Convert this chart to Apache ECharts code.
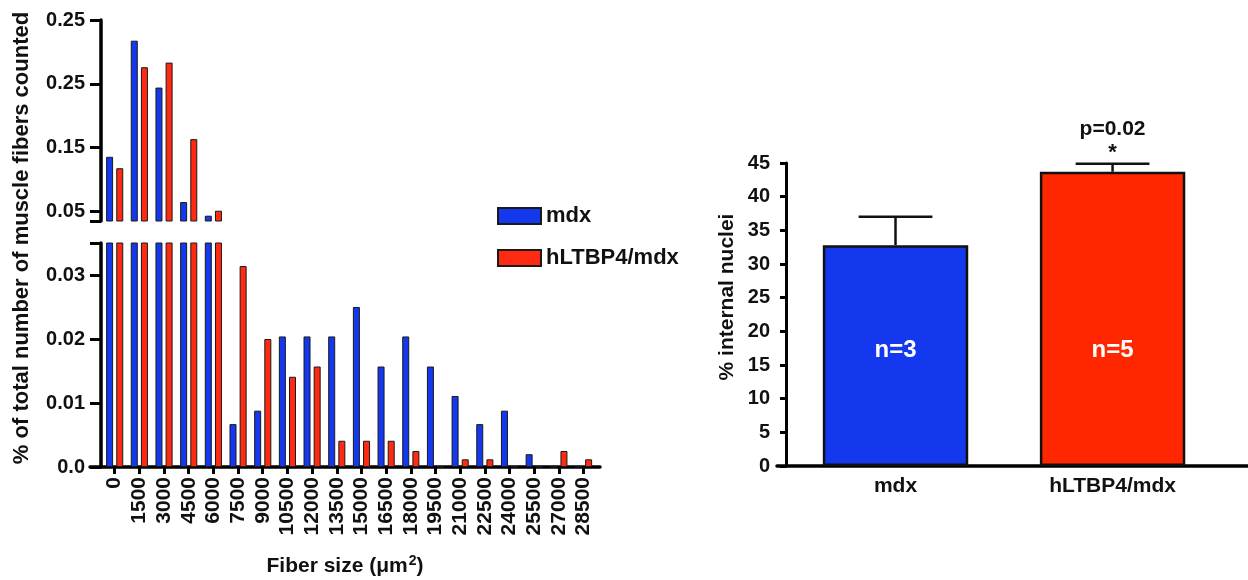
<!DOCTYPE html>
<html><head><meta charset="utf-8">
<script src="https://cdn.jsdelivr.net/npm/echarts@6/dist/echarts.min.js"></script>
<style>html,body{margin:0;padding:0;background:#fff}#c{width:1248px;height:580px}</style>
</head><body><div id="c"></div>
<script>
// ---- Left panel: fiber size distribution ----
const fiberSizes = [0,1500,3000,4500,6000,7500,9000,10500,12000,13500,15000,16500,18000,19500,21000,22500,24000,25500,27000,28500];
const mdxFreq = [0.1356,0.3176,0.2441,0.0647,0.0433,0.0067,0.0088,0.0204,0.0204,0.0204,0.0250,0.0157,0.0204,0.0157,0.0111,0.0067,0.0088,0.0020,0,0];
const hltbp4Freq = [0.1177,0.2760,0.2832,0.1633,0.0511,0.0314,0.0200,0.0141,0.0157,0.0041,0.0041,0.0041,0.0025,0,0.0012,0.0012,0,0,0.0025,0.0012];
const upperTickValues = [0.05,0.15,0.25,0.35];
const upperTickLabels = ['0.05','0.15','0.25','0.25'];
const lowerTickValues = [0,0.01,0.02,0.03];
const lowerTickLabels = ['0.0','0.01','0.02','0.03'];
const seriesNames = ['mdx','hLTBP4/mdx'];

// ---- Right panel: % internal nuclei ----
const groups = ['mdx','hLTBP4/mdx'];
const internalNuclei = [32.8, 43.7];
const errorTop = [37.0, 44.9];
const nLabels = ['n=3','n=5'];
const pLabels = ['', 'p=0.02'];
const starLabels = ['', '*'];
const rightTicks = [0,5,10,15,20,25,30,35,40,45];

const FONT = "'Liberation Sans', Arial, sans-serif";
const BLUE = '#1438ee';
const RED = '#ff2a12';
const RED2 = '#ff2600';

const chart = echarts.init(document.getElementById('c'), null, {renderer:'canvas'});

const txt = (size) => ({fontFamily: FONT, fontWeight: 'bold', fontSize: size, color: '#111'});
const axisLineStyle = {onZero: false, lineStyle: {color: '#000', width: 3.5}};

const pairs = (arr) => fiberSizes.map((x, i) => [x, arr[i]]);
const barStyle = (c) => ({color: c, borderColor: '#1a1a1a', borderWidth: 1});

function leftBars(gridIdx) {
  return [
    {name: seriesNames[0], type: 'bar', xAxisIndex: gridIdx, yAxisIndex: gridIdx,
     data: pairs(mdxFreq), barWidth: 7, barGap: '45%', itemStyle: barStyle(BLUE), clip: true},
    {name: seriesNames[1], type: 'bar', xAxisIndex: gridIdx, yAxisIndex: gridIdx,
     data: pairs(hltbp4Freq), barWidth: 7, barGap: '45%', itemStyle: barStyle(RED), clip: true}
  ];
}

const option = {
  backgroundColor: '#fff',
  animation: false,
  grid: [
    {left: 90, width: 510, top: 20, height: 201},
    {left: 90, width: 510, top: 243, height: 224},
    {left: 777, right: 0, top: 163, height: 303}
  ],
  legend: {
    data: seriesNames, orient: 'vertical', left: 492, top: 200,
    itemWidth: 43, itemHeight: 16, itemGap: 20, icon: 'rect',
    textStyle: txt(22)
  },
  xAxis: [
    {gridIndex: 0, type: 'value', min: -1500, max: 29500, show: false},
    {gridIndex: 1, type: 'value', min: -1500, max: 29500,
     axisLine: axisLineStyle, splitLine: {show: false},
     axisTick: {customValues: fiberSizes, length: 7, lineStyle: {color: '#000', width: 3}},
     axisLabel: Object.assign(txt(21), {customValues: fiberSizes, rotate: 90, margin: 10, formatter: v => String(v)}),
     name: '{a|Fiber size (μm}{s|2}{a|)}', nameLocation: 'middle', nameGap: 87,
     nameTextStyle: {rich: {a: Object.assign(txt(21), {lineHeight: 24}), s: Object.assign(txt(14), {verticalAlign: 'top', lineHeight: 24, padding: [0,0,10,1]})}}
    },
    {gridIndex: 2, type: 'value', min: -0.546, max: 1.624,
     axisLine: {onZero: false, lineStyle: {color: '#000', width: 3.5}}, splitLine: {show: false},
     axisTick: {show: false},
     axisLabel: Object.assign(txt(21), {customValues: [0,1], margin: 10, formatter: v => groups[Math.round(v)]})
    }
  ],
  yAxis: [
    {gridIndex: 0, type: 'value', min: 0.035, max: 0.35, offset: -11,
     axisLine: {show: true, onZero: false, lineStyle: {color: '#000', width: 3.5}}, splitLine: {show: false},
     axisTick: {show: true, customValues: upperTickValues.concat([0.035]), length: 11, lineStyle: {color: '#000', width: 3}},
     axisLabel: Object.assign(txt(20), {customValues: upperTickValues, margin: 16,
       formatter: v => upperTickLabels[upperTickValues.findIndex(t => Math.abs(t - v) < 1e-6)]})
    },
    {gridIndex: 1, type: 'value', min: 0, max: 0.035, offset: -11,
     axisLine: {show: true, onZero: false, lineStyle: {color: '#000', width: 3.5}}, splitLine: {show: false},
     axisTick: {show: true, customValues: lowerTickValues.concat([0.035]), length: 11, lineStyle: {color: '#000', width: 3}},
     axisLabel: Object.assign(txt(20), {customValues: lowerTickValues, margin: 16,
       formatter: v => lowerTickLabels[lowerTickValues.findIndex(t => Math.abs(t - v) < 1e-6)]})
    },
    {gridIndex: 2, type: 'value', min: 0, max: 45, offset: -9,
     axisLine: {show: true, onZero: false, lineStyle: {color: '#000', width: 3}}, splitLine: {show: false},
     axisTick: {show: true, customValues: rightTicks, length: 6, lineStyle: {color: '#000', width: 3}},
     axisLabel: Object.assign(txt(20), {customValues: rightTicks, margin: 16})
    }
  ],
  graphic: [
    {type: 'text', x: 22, y: 238, rotation: Math.PI / 2,
     style: {text: '% of total number of muscle fibers counted', fontFamily: FONT, fontWeight: 'bold', fontSize: 22, fill: '#111', align: 'center', verticalAlign: 'middle'}},
    {type: 'text', x: 727, y: 297, rotation: Math.PI / 2,
     style: {text: '% internal nuclei', fontFamily: FONT, fontWeight: 'bold', fontSize: 21, fill: '#111', align: 'center', verticalAlign: 'middle'}}
  ],
  series: [
    ...leftBars(0),
    ...leftBars(1),
    {name: 'internal nuclei', type: 'bar', xAxisIndex: 2, yAxisIndex: 2,
     data: groups.map((g, i) => ({value: [i, internalNuclei[i]], itemStyle: {color: i === 0 ? BLUE : RED2}})),
     barWidth: '67%',
     itemStyle: {borderColor: '#111', borderWidth: 2.5},
     label: {show: true, position: 'insideBottom', distance: 104, formatter: p => nLabels[p.dataIndex],
       fontFamily: FONT, fontWeight: 'bold', fontSize: 24, color: '#fff'}
    },
    {name: 'error', type: 'custom', xAxisIndex: 2, yAxisIndex: 2, z: 5,
     data: groups.map((g, i) => [i, internalNuclei[i], errorTop[i]]),
     renderItem: (params, api) => {
       const i = params.dataIndex;
       const pm = api.coord([api.value(0), api.value(1)]);
       const pe = api.coord([api.value(0), api.value(2)]);
       const half = api.size([1, 0])[0] * 0.17;
       const ls = {stroke: '#111', lineWidth: 2.5};
       return {type: 'group', children: [
         {type: 'line', shape: {x1: pm[0], y1: pm[1], x2: pe[0], y2: pe[1]}, style: ls},
         {type: 'line', shape: {x1: pe[0] - half, y1: pe[1], x2: pe[0] + half, y2: pe[1]}, style: ls},
         {type: 'text', x: pe[0], y: pe[1] - 34, style: {text: pLabels[i], fontFamily: FONT, fontWeight: 'bold', fontSize: 21, fill: '#111', align: 'center', verticalAlign: 'middle'}},
         {type: 'text', x: pe[0], y: pe[1] - 11, style: {text: starLabels[i], fontFamily: FONT, fontWeight: 'bold', fontSize: 22, fill: '#111', align: 'center', verticalAlign: 'middle'}}
       ]};
     }
    }
  ]
};
chart.setOption(option);
</script>
</body></html>
